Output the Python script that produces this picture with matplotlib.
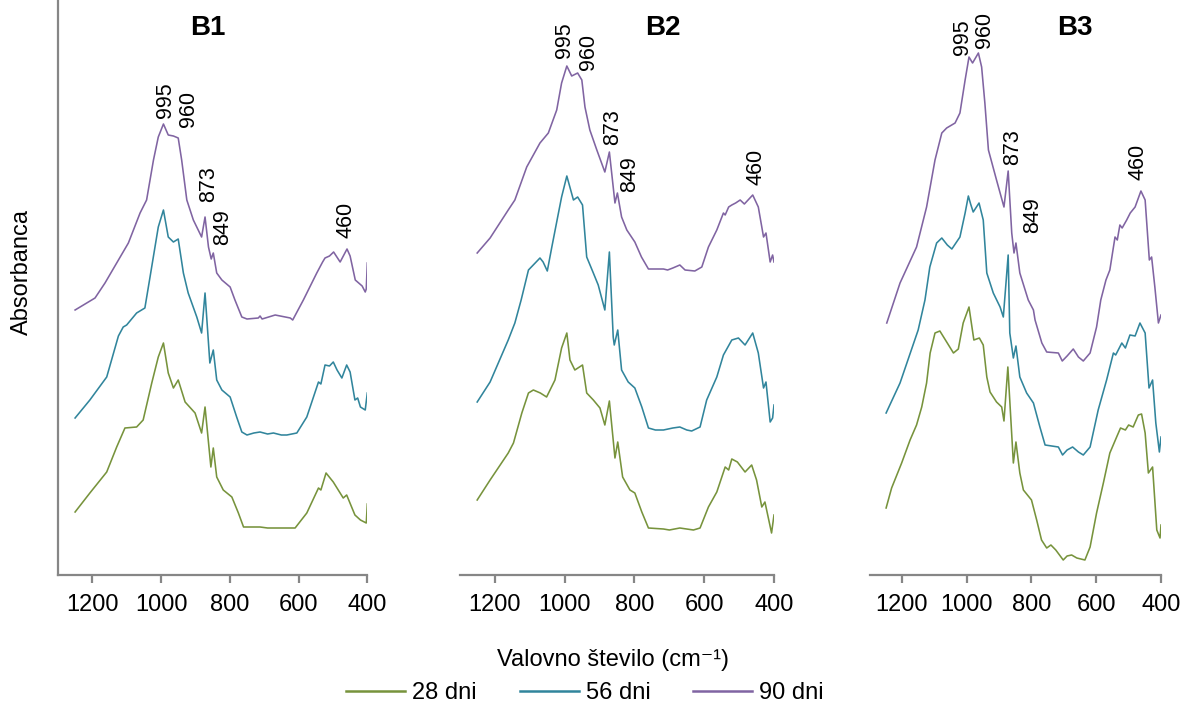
import matplotlib
matplotlib.use("Agg")
import matplotlib.pyplot as plt
from matplotlib.lines import Line2D

plt.rcParams["font.family"] = ["Liberation Sans", "DejaVu Sans"]

# ---- FTIR spectra (wavenumber in cm^-1, absorbance in a.u., stacked) ----
# B1
b1_28_wn = [1250, 1207, 1158, 1129, 1105, 1071, 1052, 1027, 1008, 993, 979, 964, 950, 930, 901, 882, 872,
            855, 848, 838, 819, 794, 775, 760, 735, 712, 690, 654, 610, 576, 542, 535, 520, 499, 470, 460,
            436, 420, 403, 400]
b1_28_ab = [0.63, 0.82, 1.03, 1.28, 1.47, 1.48, 1.55, 1.92, 2.18, 2.32, 2.02, 1.87, 1.95, 1.73, 1.62, 1.42, 1.68,
            1.08, 1.27, 0.98, 0.85, 0.78, 0.62, 0.48, 0.48, 0.48, 0.47, 0.47, 0.47, 0.62, 0.87, 0.85, 1.02, 0.93,
            0.77, 0.80, 0.60, 0.55, 0.52, 0.71]
b1_56_wn = [1250, 1207, 1158, 1124, 1110, 1100, 1071, 1047, 1032, 1008, 993, 979, 964, 950, 935, 921, 896, 882,
            872, 858, 848, 838, 823, 799, 780, 765, 750, 730, 712, 690, 673, 650, 634, 605, 576, 542, 535, 523,
            510, 499, 488, 474, 460, 450, 436, 428, 420, 406, 400]
b1_56_ab = [1.57, 1.75, 1.98, 2.39, 2.48, 2.50, 2.62, 2.67, 2.98, 3.48, 3.65, 3.38, 3.33, 3.36, 3.02, 2.82, 2.58,
            2.42, 2.82, 2.12, 2.25, 1.95, 1.85, 1.78, 1.58, 1.43, 1.40, 1.42, 1.43, 1.41, 1.42, 1.40, 1.40, 1.42,
            1.58, 1.93, 1.91, 2.10, 2.09, 2.13, 2.05, 1.97, 2.10, 2.03, 1.75, 1.77, 1.68, 1.65, 1.82]
b1_90_wn = [1250, 1192, 1163, 1129, 1095, 1061, 1042, 1022, 1008, 993, 979, 964, 950, 940, 925, 906, 882, 872,
            862, 854, 848, 838, 823, 799, 785, 765, 750, 717, 712, 706, 668, 624, 617, 586, 547, 530, 523, 510,
            498, 479, 459, 450, 435, 425, 415, 406, 403, 400]
b1_90_ab = [2.65, 2.77, 2.92, 3.12, 3.32, 3.62, 3.75, 4.15, 4.38, 4.51, 4.40, 4.39, 4.37, 4.15, 3.75, 3.55, 3.38,
            3.58, 3.28, 3.16, 3.22, 3.02, 2.95, 2.88, 2.75, 2.58, 2.56, 2.57, 2.59, 2.56, 2.60, 2.57, 2.55, 2.75,
            3.02, 3.13, 3.17, 3.19, 3.23, 3.13, 3.26, 3.19, 2.95, 2.92, 2.89, 2.83, 2.86, 3.12]

# B2
b2_28_wn = [1251, 1214, 1162, 1147, 1123, 1104, 1090, 1070, 1052, 1028, 1009, 994, 985, 971, 949, 937, 918, 899,
            885, 872, 856, 848, 834, 813, 799, 779, 760, 717, 700, 670, 631, 612, 588, 564, 540, 530, 521, 505,
            483, 464, 450, 435, 426, 407, 400]
b2_28_ab = [0.75, 0.95, 1.22, 1.32, 1.62, 1.82, 1.85, 1.82, 1.78, 1.95, 2.27, 2.42, 2.15, 2.05, 2.10, 1.82, 1.75,
            1.67, 1.50, 1.74, 1.17, 1.33, 0.98, 0.85, 0.82, 0.63, 0.47, 0.46, 0.45, 0.47, 0.45, 0.47, 0.68, 0.83,
            1.08, 1.05, 1.16, 1.13, 1.03, 1.10, 0.95, 0.68, 0.73, 0.42, 0.60]
b2_56_wn = [1251, 1214, 1162, 1143, 1125, 1104, 1071, 1062, 1050, 1037, 1018, 1009, 994, 975, 963, 949, 937, 918,
            904, 885, 872, 861, 858, 848, 837, 818, 799, 779, 760, 740, 717, 690, 670, 650, 636, 612, 593, 564,
            545, 521, 502, 483, 461, 445, 430, 423, 411, 404, 400]
b2_56_ab = [1.73, 1.93, 2.35, 2.52, 2.75, 3.05, 3.17, 3.13, 3.04, 3.28, 3.62, 3.78, 3.99, 3.75, 3.78, 3.70, 3.18,
            3.02, 2.90, 2.65, 3.23, 2.38, 2.30, 2.45, 2.05, 1.93, 1.87, 1.68, 1.47, 1.45, 1.45, 1.47, 1.48, 1.45,
            1.44, 1.48, 1.75, 1.98, 2.20, 2.35, 2.37, 2.30, 2.42, 2.22, 1.87, 1.93, 1.53, 1.57, 1.70]
b2_90_wn = [1251, 1214, 1162, 1143, 1109, 1071, 1047, 1023, 1009, 994, 980, 963, 951, 942, 928, 908, 885, 872,
            856, 849, 837, 822, 799, 780, 760, 717, 705, 690, 670, 655, 627, 607, 588, 564, 545, 540, 530, 521,
            510, 497, 485, 461, 445, 430, 423, 411, 404, 400]
b2_90_ab = [3.22, 3.37, 3.65, 3.75, 4.08, 4.32, 4.42, 4.65, 4.92, 5.09, 4.99, 5.02, 4.95, 4.68, 4.45, 4.25, 4.03,
            4.23, 3.72, 3.82, 3.58, 3.45, 3.33, 3.18, 3.06, 3.06, 3.05, 3.07, 3.10, 3.05, 3.04, 3.08, 3.28, 3.45,
            3.62, 3.60, 3.68, 3.70, 3.72, 3.75, 3.71, 3.80, 3.68, 3.38, 3.42, 3.13, 3.20, 3.13]

# B3
b3_28_wn = [1249, 1232, 1201, 1175, 1155, 1139, 1124, 1113, 1098, 1083, 1062, 1041, 1026, 1011, 993, 978, 961, 949,
            938, 928, 908, 892, 885, 873, 856, 848, 836, 825, 800, 784, 769, 753, 740, 725, 702, 690, 676, 660,
            635, 619, 599, 578, 558, 537, 525, 510, 500, 486, 470, 460, 449, 439, 426, 413, 403, 400]
b3_28_ab = [0.67, 0.87, 1.12, 1.35, 1.50, 1.68, 1.92, 2.22, 2.42, 2.44, 2.33, 2.22, 2.26, 2.52, 2.68, 2.35, 2.37,
            2.30, 1.98, 1.83, 1.73, 1.68, 1.54, 2.08, 1.12, 1.33, 1.02, 0.85, 0.75, 0.55, 0.35, 0.27, 0.30, 0.25,
            0.15, 0.19, 0.20, 0.17, 0.15, 0.28, 0.62, 0.92, 1.22, 1.38, 1.47, 1.45, 1.50, 1.48, 1.60, 1.61, 1.42,
            1.02, 1.08, 0.45, 0.37, 0.50]
b3_56_wn = [1249, 1206, 1150, 1129, 1114, 1093, 1077, 1060, 1046, 1021, 1005, 995, 988, 980, 962, 949, 938, 918,
            897, 887, 872, 867, 856, 848, 836, 815, 794, 774, 758, 717, 704, 690, 673, 655, 640, 619, 594, 568,
            547, 540, 521, 510, 496, 480, 465, 449, 437, 426, 416, 405, 400]
b3_56_ab = [1.62, 1.92, 2.45, 2.75, 3.08, 3.32, 3.37, 3.30, 3.26, 3.38, 3.62, 3.79, 3.71, 3.63, 3.72, 3.55, 3.02,
            2.82, 2.68, 2.58, 3.20, 2.42, 2.17, 2.29, 1.98, 1.82, 1.72, 1.48, 1.30, 1.28, 1.20, 1.25, 1.28, 1.23,
            1.20, 1.28, 1.65, 1.95, 2.22, 2.20, 2.32, 2.27, 2.40, 2.39, 2.52, 2.42, 1.87, 1.95, 1.52, 1.23, 1.38]
b3_90_wn = [1247, 1206, 1155, 1124, 1098, 1077, 1062, 1036, 1021, 1005, 993, 982, 964, 954, 944, 933, 908, 885,
            872, 861, 854, 848, 836, 810, 794, 789, 768, 753, 717, 705, 690, 671, 655, 640, 619, 599, 586, 570,
            558, 542, 535, 527, 520, 506, 495, 480, 462, 449, 436, 429, 419, 408, 400]
b3_90_ab = [2.52, 2.92, 3.28, 3.68, 4.15, 4.42, 4.47, 4.52, 4.62, 4.95, 5.18, 5.12, 5.22, 5.08, 4.72, 4.25, 3.95,
            3.68, 4.04, 3.42, 3.22, 3.32, 3.02, 2.75, 2.65, 2.55, 2.32, 2.23, 2.22, 2.14, 2.19, 2.26, 2.18, 2.14,
            2.22, 2.48, 2.75, 2.95, 3.05, 3.38, 3.35, 3.50, 3.47, 3.55, 3.62, 3.68, 3.84, 3.75, 3.15, 3.18, 2.88,
            2.52, 2.60]

series_labels = ["28 dni", "56 dni", "90 dni"]
series_colors = ["#77933C", "#31859C", "#8064A2"]
panel_titles = ["B1", "B2", "B3"]
peak_labels = ["995", "960", "873", "849", "460"]

panels = [
    [(b1_28_wn, b1_28_ab), (b1_56_wn, b1_56_ab), (b1_90_wn, b1_90_ab)],
    [(b2_28_wn, b2_28_ab), (b2_56_wn, b2_56_ab), (b2_90_wn, b2_90_ab)],
    [(b3_28_wn, b3_28_ab), (b3_56_wn, b3_56_ab), (b3_90_wn, b3_90_ab)],
]

# label anchor (wavenumber, absorbance) for each peak label, per panel
peak_label_pos = [
    [(988, 4.57), (921, 4.48), (863, 3.73), (820, 3.30), (462, 3.37)],
    [(1002, 5.17), (933, 5.05), (864, 4.30), (813, 3.83), (452, 3.90)],
    [(1012, 5.20), (944, 5.27), (857, 4.10), (795, 3.42), (471, 3.95)],
]
title_pos = [(863, 5.47), (718, 5.47), (666, 5.47)]

axis_grey = "#868686"
fig = plt.figure(figsize=(11.84, 7.08), dpi=100)

W, H = 1184.0, 708.0
axes_px = [(57.9, 367.3), (460.1, 774.0), (869.6, 1161.0)]
bottom_px = 575.0

for i, (x0, x1) in enumerate(axes_px):
    ax = fig.add_axes([x0 / W, 1 - bottom_px / H, (x1 - x0) / W, bottom_px / H])
    for (wn, ab), color in zip(panels[i], series_colors):
        ax.plot(wn, ab, color=color, lw=1.15, solid_joinstyle="round")
    ax.set_xlim(1300, 400)
    ax.set_ylim(0, 5.75)
    ax.set_xticks([1200, 1000, 800, 600, 400])
    ax.set_yticks([])
    for side in ["top", "right"]:
        ax.spines[side].set_visible(False)
    ax.spines["left"].set_visible(i == 0)
    for side in ["left", "bottom"]:
        ax.spines[side].set_color(axis_grey)
        ax.spines[side].set_linewidth(1.6)
    ax.tick_params(axis="x", direction="out", length=6, width=1.6, color=axis_grey,
                   labelsize=17, pad=8, labelcolor="black")
    ax.patch.set_alpha(0)
    for txt, (px, py) in zip(peak_labels, peak_label_pos[i]):
        ax.text(px, py, txt, rotation=90, ha="center", va="bottom", fontsize=15.5, clip_on=False)
    tx, ty = title_pos[i]
    ax.text(tx, ty, panel_titles[i], ha="center", va="center", fontsize=20, fontweight="bold")

fig.text(22 / W, 1 - 272 / H, "Absorbanca", rotation=90, ha="center", va="center", fontsize=17)
fig.text(613 / W, 1 - 660 / H, "Valovno število (cm⁻¹)", ha="center", va="center", fontsize=17)

handles = [Line2D([], [], color=c, lw=1.8) for c in series_colors]
fig.legend(handles, series_labels, loc="center", bbox_to_anchor=(585 / W, 1 - 693 / H), ncol=3,
           frameon=False, fontsize=17, handlelength=2.5, handletextpad=0.3, columnspacing=1.8,
           borderpad=0, borderaxespad=0)

fig.savefig("out.png", dpi=100)
